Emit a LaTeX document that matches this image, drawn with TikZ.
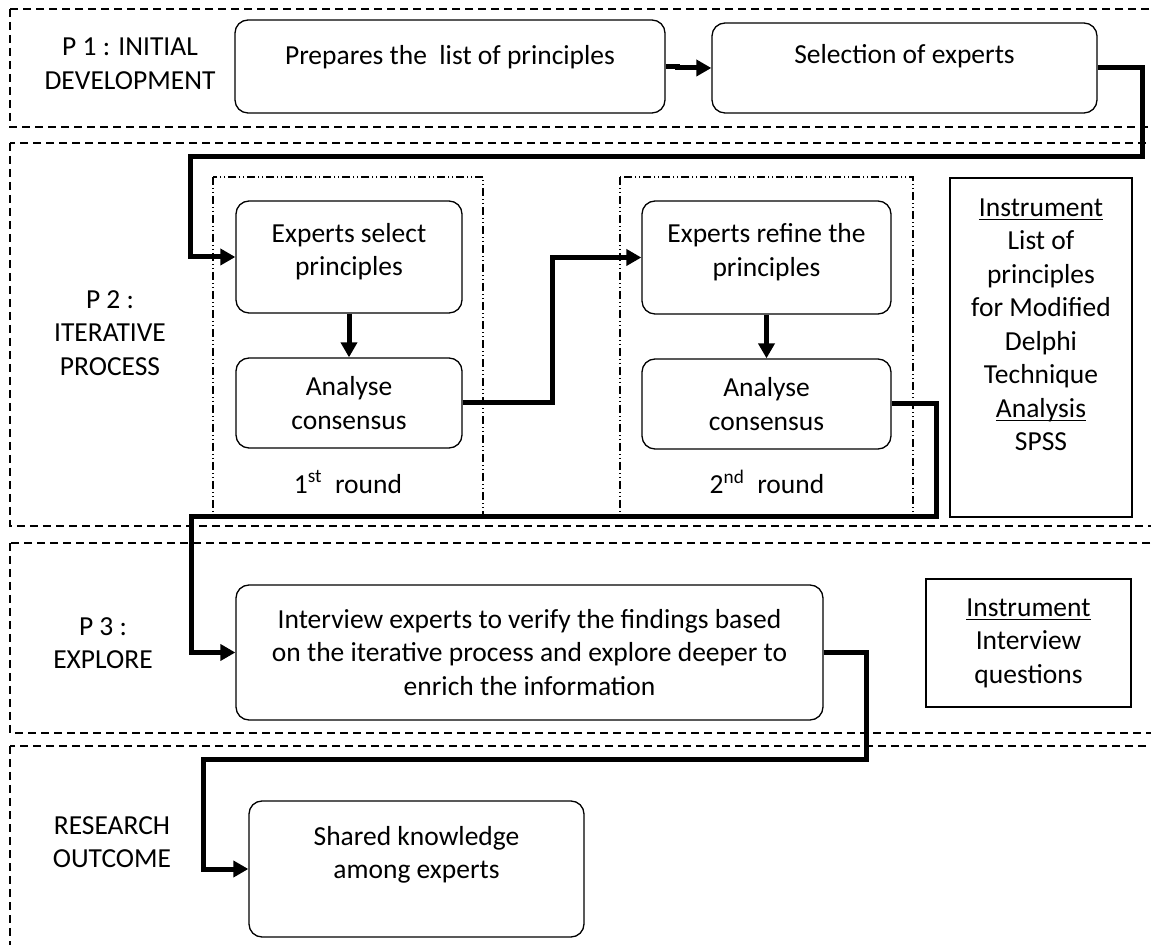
\documentclass[tikz,border=0pt]{standalone}
\usepackage{fontspec}
\setmainfont{Carlito}
\usetikzlibrary{arrows.meta}

\begin{document}
\begin{tikzpicture}[x=0.5pt,y=-0.5pt,
            every node/.style={font=\fontsize{13.75}{16.75}\selectfont, align=center},
            roundbox/.style={draw, line width=0.65pt, rounded corners=6.5pt, inner sep=0pt},
            instbox/.style={draw, line width=0.65pt, inner sep=0pt},
            band/.style={line width=0.6pt, dash pattern=on 4pt off 2.5pt},
            rframe/.style={line width=0.6pt, dash pattern=on 4pt off 1.5pt on 0.5pt off 1.5pt on 0.5pt off 1.5pt},
            flow/.style={line width=2.5pt, -{Triangle[length=7.5pt,width=8pt]}}]
            
            \useasboundingbox (0,0) rectangle (1151,945);
            \clip (0,0) rectangle (1151,945);
            \fill[white] (0,0) rectangle (1151,945);
            
            \draw[band] (10,9) rectangle (1170,127);
            \draw[band] (10,143) rectangle (1170,526);
            \draw[band] (10,543) rectangle (1170,733);
            \draw[band] (10,746) rectangle (1170,960);
            
            \draw[rframe] (213,177) rectangle (483,517);
            \draw[rframe] (620,177) rectangle (913,517);
            
            \node (p1) at (130,64) {P 1 : INITIAL\\DEVELOPMENT};
            \node (p2) at (110,333) {P 2 :\\ITERATIVE\\PROCESS};
            \node (p3) at (103,643) {P 3 :\\EXPLORE};
            \node (p4) at (112,842) {RESEARCH\\OUTCOME};
            
            \node[roundbox, minimum width=215pt, minimum height=46.5pt] (prep) at (450,66.5) {Prepares the~ list of principles\\[-4.85pt]\mbox{}};
            \node[roundbox, minimum width=192.5pt, minimum height=45pt] (sel) at (904.5,68) {Selection of experts\\[-3pt]\mbox{}};
            
            \node[roundbox, minimum width=113pt, minimum height=56pt] (sel1) at (349,257) {Experts select\\principles\\[-9.35pt]\mbox{}};
            \node[roundbox, minimum width=113pt, minimum height=45pt] (ana1) at (349,403) {Analyse\\consensus};
            \node (rnd1) at (348,482) {1\textsuperscript{st}~ round};
            
            \node[roundbox, minimum width=124.5pt, minimum height=56.5pt] (ref2) at (766.5,257.5) {Experts refine the\\principles\\[-9.35pt]\mbox{}};
            \node[roundbox, minimum width=124.5pt, minimum height=45pt] (ana2) at (766.5,404) {Analyse\\consensus};
            \node (rnd2) at (767,482) {2\textsuperscript{nd}~ round};
            
            \node[instbox, minimum width=91pt, minimum height=169.5pt] (inst1) at (1041,347.5) {\underline{Instrument}\\List of\\principles\\for Modified\\Delphi\\Technique\\\underline{Anal\smash{y}sis}\\SPSS\\[6.25pt]\mbox{}};
            
            \node[roundbox, minimum width=293.5pt, minimum height=67.5pt] (intv) at (529.5,652.5) {Interview experts to verify the findings based\\on the iterative process and explore deeper to\\enrich the information};
            \node[instbox, minimum width=102.5pt, minimum height=64pt] (inst2) at (1028.5,643) {\underline{Instrument}\\Interview\\questions};
            
            \node[roundbox, minimum width=167.5pt, minimum height=68pt] (share) at (416.5,869) {Shared knowledge\\among experts\\[-0.35pt]\mbox{}};
            
            \draw[flow] (prep.east) -- ++(12,0) |- (sel.west);
            \draw[flow] (sel.east) -| (1142,157) -| (190,257) -- (sel1.west);
            \draw[flow] (sel1.south) -- (ana1.north);
            \draw[flow] (ana1.east) -- ++(90,0) |- (ref2.west);
            \draw[flow] (ref2.south) -- (ana2.north);
            \draw[flow] (ana2.east) -| (936,517) -- (191,517) |- (intv.west);
            \draw[flow] (intv.east) -| (866,760) -- (203,760) |- (share.west);
            
        \end{tikzpicture}
\end{document}
